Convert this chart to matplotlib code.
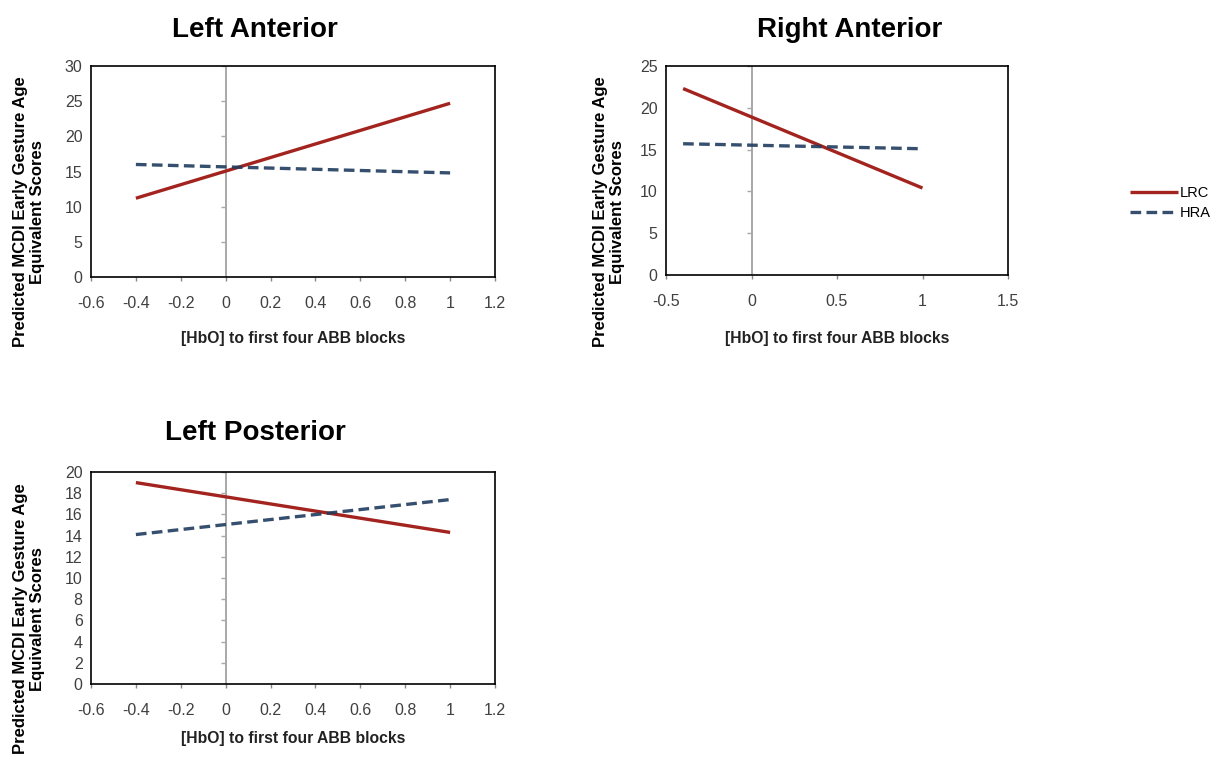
import numpy as np
import matplotlib
matplotlib.use('Agg')
import matplotlib.pyplot as plt

plt.rcParams['font.family'] = ['Liberation Sans', 'DejaVu Sans']

# Predicted values at the two ends of the [HbO] range
x_ends = [-0.4, 1.0]

la_lrc = [11.2, 24.7]
la_hra = [16.0, 14.8]
ra_lrc = [22.3, 10.4]
ra_hra = [15.7, 15.1]
lp_lrc = [19.0, 14.3]
lp_hra = [14.1, 17.4]

panel_titles = ['Left Anterior', 'Right Anterior', 'Left Posterior']
xlabel = '[HbO] to first four ABB blocks'
ylabel = 'Predicted MCDI Early Gesture Age\nEquivalent Scores'

red = '#A3231F'
blue = '#203C5E'
tick_gray = '#404040'

W, H = 1217, 759
fig = plt.figure(figsize=(W / 100, H / 100), dpi=100)


def px(x, y):
    return x / W, 1 - y / H


def make_panel(left, top, right, bottom, lrc, hra, xlim, xticks, ylim, yticks,
               title, title_xy, ylab_xy, xlab_y):
    x0, y1 = px(left, top)
    x1, y0 = px(right, bottom)
    ax = fig.add_axes([x0, y0, x1 - x0, y1 - y0])
    ax.plot(x_ends, lrc, color=red, lw=2.4, solid_capstyle='butt', zorder=3)
    ax.plot(x_ends, hra, color=blue, lw=2.4, ls=(0, (3.2, 1.6)), zorder=3, alpha=0.9)
    ax.set_xlim(*xlim)
    ax.set_ylim(*ylim)
    ax.set_xticks(xticks)
    ax.set_xticklabels([f'{t:g}' for t in xticks])
    ax.set_yticks(yticks)
    ax.tick_params(axis='x', direction='out', length=3, width=1, color='#888888',
                   pad=11, labelsize=11.5, labelcolor=tick_gray)
    ax.tick_params(axis='y', length=0, pad=6, labelsize=11.5, labelcolor=tick_gray)
    for s in ax.spines.values():
        s.set_color('black')
        s.set_linewidth(1.2)
    # vertical axis crossing at x = 0 with small tick marks
    ax.axvline(0, color='#A8A8A8', lw=1.4, zorder=1)
    xf = (0 - xlim[0]) / (xlim[1] - xlim[0])
    ax.hlines(yticks, xf - 0.012, xf, transform=ax.get_yaxis_transform(),
              color='#A8A8A8', lw=1)
    fig.text(*px(*title_xy), title, ha='center', va='center',
             fontsize=20, fontweight='bold')
    fig.text(*px(*ylab_xy), ylabel, ha='center', va='center', rotation=90,
             fontsize=12, fontweight='bold', multialignment='center', linespacing=1.15)
    fig.text(*px((left + right) / 2, xlab_y), xlabel, ha='center', va='center',
             fontsize=11.3, fontweight='bold', color='#222222')
    return ax


make_panel(91, 66, 495, 277, la_lrc, la_hra, (-0.6, 1.2), np.arange(-0.6, 1.21, 0.2).round(1),
           (0, 30), range(0, 31, 5), panel_titles[0], (255, 30), (29, 212), 338)

ax2 = make_panel(666, 66, 1008, 275, ra_lrc, ra_hra, (-0.5, 1.5), [-0.5, 0, 0.5, 1, 1.5],
                 (0, 25), range(0, 26, 5), panel_titles[1], (850, 30), (609, 212), 338)

make_panel(91, 472, 495, 684, lp_lrc, lp_hra, (-0.6, 1.2), np.arange(-0.6, 1.21, 0.2).round(1),
           (0, 20), range(0, 21, 2), panel_titles[2], (255, 433), (29, 619), 738)

handles = ax2.get_lines()[:2]
fig.legend(handles, ['LRC', 'HRA'], loc='center left',
           bbox_to_anchor=px(1117, 203), frameon=False, fontsize=10.5,
           handlelength=3.3, handletextpad=0.1, labelspacing=0.45)

fig.savefig('out.png', dpi=100)
